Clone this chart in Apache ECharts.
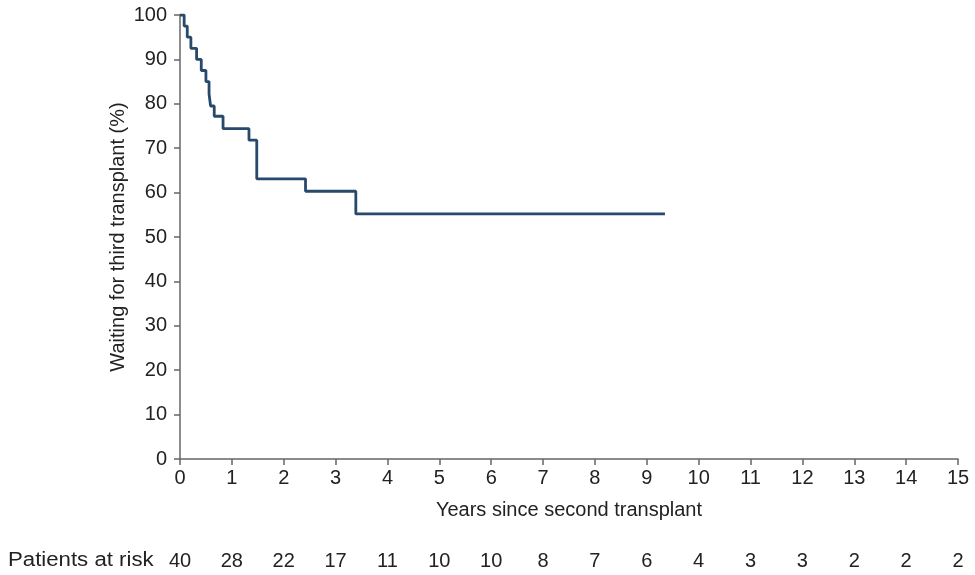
<!DOCTYPE html>
<html>
<head>
<meta charset="utf-8">
<script src="https://cdn.jsdelivr.net/npm/echarts@6/dist/echarts.min.js"></script>
<style>
html, body { margin: 0; padding: 0; background: #fff; }
#chart { width: 975px; height: 575px; }
</style>
</head>
<body>
<div id="chart"></div>
<script>
// step points of the survival curve (years, % still waiting)
var years = [0, 0.08, 0.14, 0.21, 0.32, 0.41, 0.50, 0.56, 0.59, 0.66, 0.83, 1.33, 1.48, 2.42, 3.39, 9.35];
var waiting = [100, 97.5, 95, 92.5, 90, 87.5, 85, 82.2, 79.5, 77.2, 74.4, 71.8, 63.1, 60.3, 55.2, 55.2];
// numbers at risk under each year tick
var riskYears = [0, 1, 2, 3, 4, 5, 6, 7, 8, 9, 10, 11, 12, 13, 14, 15];
var atRisk = [40, 28, 22, 17, 11, 10, 10, 8, 7, 6, 4, 3, 3, 2, 2, 2];

var axisColor = '#666';
var textColor = '#222';
var font = 'Liberation Sans, Arial, sans-serif';
var fs = 20;

var chart = echarts.init(document.getElementById('chart'));

var points = [];
for (var i = 0; i < years.length; i++) {
    points.push([years[i], waiting[i]]);
}

var option = {
    animation: false,
    textStyle: { fontFamily: font },
    grid: { left: 180, right: 17, top: 15, bottom: 116, containLabel: false },
    // row title for the numbers-at-risk line
    graphic: [{
        type: 'text',
        x: 8,
        y: 550,
        scaleX: 1.11,
        style: { text: 'Patients at risk', fill: textColor, font: fs + 'px ' + font }
    }],
    xAxis: [{
        type: 'value',
        min: 0,
        max: 15,
        interval: 1,
        name: 'Years since second transplant',
        nameLocation: 'middle',
        nameGap: 41,
        nameTextStyle: { color: textColor, fontSize: fs, fontFamily: font },
        axisLine: { show: true, onZero: false, lineStyle: { color: axisColor, width: 1.5 } },
        axisTick: { show: true, length: 6, lineStyle: { color: axisColor, width: 1.5 } },
        axisLabel: { color: textColor, fontSize: fs, margin: 9, fontFamily: font },
        splitLine: { show: false }
    }, {
        type: 'value',
        position: 'bottom',
        offset: 102,
        min: 0,
        max: 15,
        interval: 1,
        axisLine: { show: false },
        axisTick: { show: false },
        axisLabel: {
            color: textColor,
            fontSize: fs,
            margin: 0,
            verticalAlign: 'middle',
            fontFamily: font,
            formatter: function (v) {
                var idx = riskYears.indexOf(v);
                return idx >= 0 ? String(atRisk[idx]) : '';
            }
        },
        splitLine: { show: false }
    }],
    yAxis: {
        type: 'value',
        min: 0,
        max: 100,
        interval: 10,
        name: 'Waiting for third transplant (%)',
        nameLocation: 'middle',
        nameGap: 52,
        nameMoveOverlap: false,
        nameTextStyle: { color: textColor, fontSize: fs, fontFamily: font },
        axisLine: { show: true, lineStyle: { color: axisColor, width: 1.5 } },
        axisTick: { show: true, length: 6, lineStyle: { color: axisColor, width: 1.5 } },
        axisLabel: { color: textColor, fontSize: fs, margin: 13, fontFamily: font },
        splitLine: { show: false }
    },
    series: [{
        type: 'line',
        xAxisIndex: 0,
        step: 'end',
        data: points,
        showSymbol: false,
        symbol: 'none',
        lineStyle: { color: '#27496b', width: 2.8 }
    }]
};

chart.setOption(option);
</script>
</body>
</html>
